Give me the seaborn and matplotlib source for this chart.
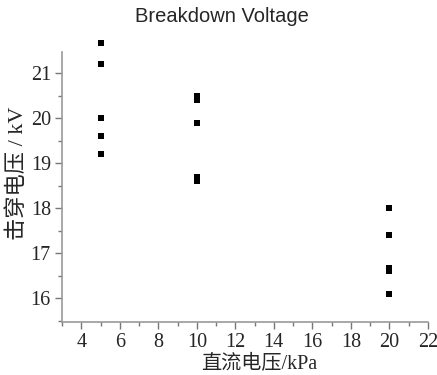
import numpy as np
import pandas as pd
import matplotlib
matplotlib.use("Agg")
import matplotlib.pyplot as plt
from matplotlib.ticker import MultipleLocator
import seaborn as sns

# data
pressure_kpa = [5, 5, 5, 5, 5,
                10, 10, 10, 10, 10,
                20, 20, 20, 20, 20]
breakdown_kv = [21.67, 21.2, 20.0, 19.6, 19.2,
                20.49, 20.4, 19.89, 18.69, 18.6,
                18.0, 17.4, 16.67, 16.6, 16.1]

df = pd.DataFrame({"pressure": pressure_kpa, "voltage": breakdown_kv})

sns.set_style("white")
serif = ["Liberation Serif", "Noto Sans CJK SC"]

fig = plt.figure(figsize=(4.37, 3.75), dpi=100)
ax = fig.add_axes([0.142, 0.141, 0.837, 0.72])

sns.scatterplot(data=df, x="pressure", y="voltage", marker="s",
                color="black", s=14, linewidth=0, ax=ax)
for c in ax.collections:
    c.set_clip_on(False)

ax.set_xlim(3, 22)
ax.set_ylim(15.47, 21.47)
ax.xaxis.set_major_locator(MultipleLocator(2))
ax.xaxis.set_minor_locator(MultipleLocator(1))
ax.set_yticks([16, 17, 18, 19, 20, 21])
ax.yaxis.set_minor_locator(MultipleLocator(0.5))

for side in ["top", "right"]:
    ax.spines[side].set_visible(False)
for side in ["left", "bottom"]:
    ax.spines[side].set_color("#999999")
    ax.spines[side].set_linewidth(1.2)

ax.tick_params(which="major", direction="out", length=5, width=1,
               color="#777777", labelsize=14.5, pad=3,
               bottom=True, left=True)
ax.tick_params(which="minor", direction="out", length=3, width=1,
               color="#777777", bottom=True, left=True)
for lbl in ax.get_xticklabels() + ax.get_yticklabels():
    lbl.set_family(serif)

ax.set_xlabel("直流电压/kPa", family=serif, fontsize=14.5)
ax.set_ylabel("击穿电压 / kV", family=serif, fontsize=16)
ax.xaxis.set_label_coords(0.538, -0.122)
ax.yaxis.set_label_coords(-0.093, 0.55)

fig.suptitle("Breakdown Voltage", family=["Liberation Sans", "DejaVu Sans"],
             fontsize=14.5, x=0.508, y=0.981, va="top")

fig.savefig("out.png", dpi=100)
